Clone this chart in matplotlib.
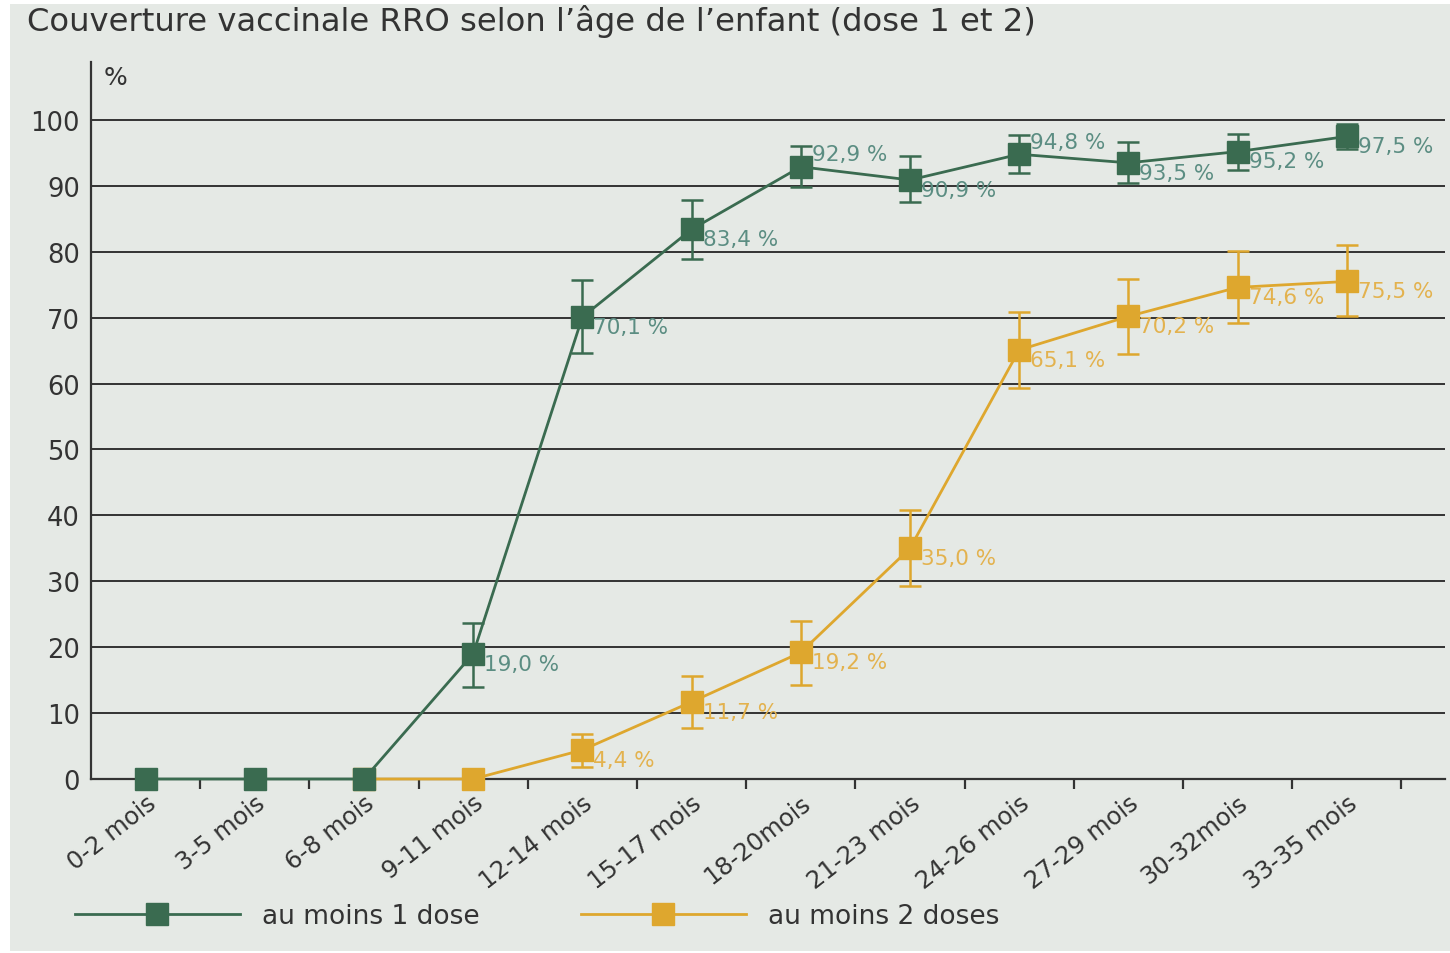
import matplotlib
matplotlib.use('Agg')
import matplotlib.pyplot as plt
import numpy as np
from matplotlib.patches import Rectangle

plt.rcParams['font.family'] = ['DejaVu Sans']

ages = ['0-2 mois', '3-5 mois', '6-8 mois', '9-11 mois', '12-14 mois', '15-17 mois',
        '18-20mois', '21-23 mois', '24-26 mois', '27-29 mois', '30-32mois', '33-35 mois']

dose1 = [0, 0, 0, 19.0, 70.1, 83.4, 92.9, 90.9, 94.8, 93.5, 95.2, 97.5]
dose1_low = [0, 0, 0, 14.0, 64.6, 78.9, 89.8, 87.6, 92.0, 90.4, 92.4, 95.6]
dose1_high = [0, 0, 0, 23.7, 75.7, 87.9, 96.1, 94.5, 97.7, 96.6, 97.9, 99.4]

dose2 = [np.nan, np.nan, 0, 0, 4.4, 11.7, 19.2, 35.0, 65.1, 70.2, 74.6, 75.5]
dose2_low = [np.nan, np.nan, 0, 0, 1.8, 7.7, 14.3, 29.3, 59.3, 64.5, 69.2, 70.2]
dose2_high = [np.nan, np.nan, 0, 0, 6.8, 15.7, 24.0, 40.8, 70.9, 75.9, 80.1, 81.0]

# True = value label above the marker instead of below
dose1_above = [False, False, False, False, False, False, True, False, True, False, False, False]

green = '#3a6b50'
green_txt = '#5b8d82'
orange = '#dea72e'
orange_txt = '#e3b24e'
bg = '#e5e9e5'
dark = '#333333'

fig = plt.figure(figsize=(14.5, 9.54), dpi=100)
fig.patches.append(Rectangle((10 / 1450, 2 / 954), 1440 / 1450, 947 / 954,
                             transform=fig.transFigure, facecolor=bg, edgecolor='none', zorder=-10))

ax = fig.add_axes([91 / 1450, 1 - 780 / 954, 1354 / 1450, 717 / 954])
ax.set_facecolor('none')

x = np.arange(len(ages))

for yv in range(10, 101, 10):
    ax.axhline(yv, color=dark, lw=1.4, zorder=1)

def draw(vals, lo, hi, col, z):
    vals = np.array(vals, dtype=float)
    err = np.array([vals - np.array(lo, dtype=float), np.array(hi, dtype=float) - vals])
    ax.errorbar(x, vals, yerr=err, color=col, lw=2, marker='s', markersize=16,
                capsize=8, elinewidth=1.8, capthick=1.8, zorder=z, clip_on=False)

draw(dose2, dose2_low, dose2_high, orange, 3)
draw(dose1, dose1_low, dose1_high, green, 4)

for i in range(3, len(ages)):
    v = dose1[i]
    lab = f'{v:.1f} %'.replace('.', ',')
    dy = 9 if dose1_above[i] else -7
    ax.annotate(lab, (x[i], v), xytext=(8, dy), textcoords='offset points', fontsize=15.5,
                color=green_txt, ha='left', va='center', zorder=5)

for i in range(4, len(ages)):
    v = dose2[i]
    lab = f'{v:.1f} %'.replace('.', ',')
    ax.annotate(lab, (x[i], v), xytext=(8, -7), textcoords='offset points', fontsize=15.5,
                color=orange_txt, ha='left', va='center', zorder=5)

ax.set_xlim(-0.5, 11.9)
ax.set_ylim(0, 108.8)
ax.set_yticks(range(0, 101, 10))
ax.tick_params(axis='y', length=0, labelsize=18.5, colors=dark, pad=8)
ax.set_xticks(x)
ax.set_xticklabels(ages, rotation=38, ha='right', va='top', rotation_mode='anchor',
                   fontsize=17.5, color=dark)
ax.tick_params(axis='x', which='major', length=0, pad=8)
ax.set_xticks(x + 0.5, minor=True)
ax.tick_params(axis='x', which='minor', length=7, width=1.6, color=dark, direction='out')

for s in ['top', 'right']:
    ax.spines[s].set_visible(False)
ax.spines['left'].set_color(dark)
ax.spines['left'].set_linewidth(1.6)
ax.spines['bottom'].set_color(dark)
ax.spines['bottom'].set_linewidth(1.6)

ax.text(0.009, 106.5, '%', fontsize=18, color=dark, ha='left', va='center',
        transform=ax.get_yaxis_transform())

fig.text(27 / 1450, 1 - 21 / 954, 'Couverture vaccinale RRO selon l’âge de l’enfant (dose 1 et 2)',
         fontsize=23.2, color=dark, ha='left', va='center')

h1, = ax.plot([], [], color=green, lw=2, marker='s', markersize=16)
h2, = ax.plot([], [], color=orange, lw=2, marker='s', markersize=16)
fig.legend([h1, h2], ['au moins 1 dose', 'au moins 2 doses'], loc='center left',
           bbox_to_anchor=(51 / 1450, 1 - 917 / 954), ncol=2, frameon=False, fontsize=19,
           handlelength=6.25, handletextpad=0.83, columnspacing=3.85, labelcolor=dark)

fig.savefig('out.png', dpi=100, facecolor='white')
